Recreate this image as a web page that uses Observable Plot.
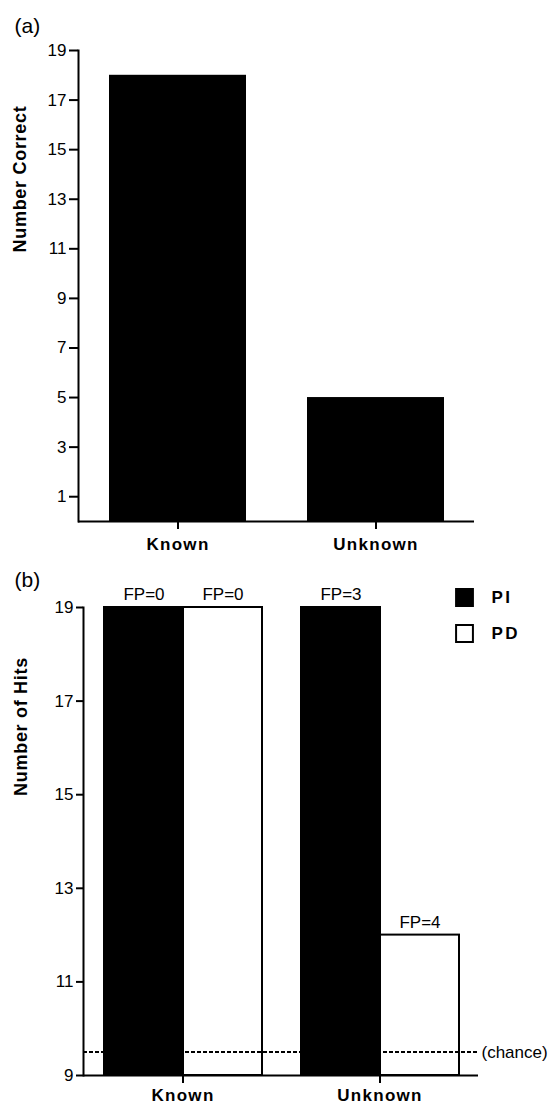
<!DOCTYPE html>
<html>
<head>
<meta charset="utf-8">
<script src="https://cdn.jsdelivr.net/npm/d3@7"></script>
<script src="https://cdn.jsdelivr.net/npm/@observablehq/plot@0.6"></script>
<style>
  html, body { margin: 0; padding: 0; background: #fff; }
  #wrap { position: relative; width: 550px; height: 1106px; background: #fff; }
  #wrap svg { position: absolute; left: 0; }
  g[aria-label="x-axis tick label"] text,
  g[aria-label="fx-axis tick label"] text { font-weight: bold; letter-spacing: 1.3px; }
  text[aria-label="legend-label"] { letter-spacing: 2.5px; }
  text[aria-label="axis-title"] { letter-spacing: 0.7px; }
</style>
</head>
<body>
<div id="wrap"></div>
<script>
// ---- Panel (a) data ----
const catsA = ["Known", "Unknown"];
const correctA = [18, 5];
const ticksA = [1, 3, 5, 7, 9, 11, 13, 15, 17, 19];

// ---- Panel (b) data ----
const catsB = ["Known", "Known", "Unknown", "Unknown"];
const groupsB = ["PI", "PD", "PI", "PD"];
const hitsB = [19, 19, 19, 12];
const fpB = [0, 0, 3, 4];
const ticksB = [9, 11, 13, 15, 17, 19];
const yMinB = 9;
const chance = 9.5;
const legendKeys = ["PI", "PD"];
const legendFills = ["black", "white"];

const font = "'Liberation Sans', Arial, Helvetica, sans-serif";

const dataA = catsA.map((c, i) => ({cat: c, value: correctA[i]}));
const dataB = catsB.map((c, i) => ({cat: c, group: groupsB[i], hits: hitsB[i], fp: fpB[i]}));

const plotA = Plot.plot({
  width: 550,
  height: 555,
  marginTop: 50,
  marginBottom: 34,
  marginLeft: 78,
  marginRight: 76,
  style: {fontSize: "17px", fontFamily: font, color: "black", background: "white"},
  x: {domain: catsA, paddingInner: 0.31, paddingOuter: 0.155, label: null},
  y: {domain: [0, 19], label: null},
  marks: [
    Plot.barY(dataA, {x: "cat", y: "value", fill: "black"}),
    Plot.frame({anchor: "left", strokeWidth: 2}),
    Plot.ruleY([0], {strokeWidth: 2}),
    Plot.axisY({ticks: ticksA, tickSize: 9, tickPadding: 3, strokeWidth: 2, label: null}),
    Plot.axisX({tickSize: 8, tickPadding: 8, strokeWidth: 2, label: null}),
    Plot.text(["Number Correct"], {frameAnchor: "left", textAnchor: "middle", lineAnchor: "middle", rotate: -90, dx: -58, dy: -107, fontWeight: "bold", fontSize: 18, ariaLabel: () => "axis-title"}),
    Plot.text(["(a)"], {frameAnchor: "top-left", textAnchor: "start", lineAnchor: "middle", dx: -64, dy: -24, fontSize: 21})
  ]
});
plotA.style.top = "0px";

const dimsB = {width: 550, height: 551, marginTop: 52, marginBottom: 31, marginLeft: 83, marginRight: 72};

// bars (faceted by category)
const plotB = Plot.plot({
  ...dimsB,
  style: {fontSize: "17px", fontFamily: font, color: "black", background: "white"},
  fx: {domain: ["Known", "Unknown"], paddingInner: 0.195, paddingOuter: 0.096, label: null},
  x: {domain: legendKeys, padding: 0, axis: null, label: null},
  y: {domain: [yMinB, 19], axis: null, label: null},
  color: {domain: legendKeys, range: legendFills},
  marks: [
    Plot.barY(dataB, {fx: "cat", x: "group", y1: () => yMinB, y2: "hits", fill: "group", stroke: "black", strokeWidth: 2}),
    Plot.text(dataB, {fx: "cat", x: "group", y: "hits", text: d => "FP=" + d.fp, dy: -13}),
    Plot.axisFx({anchor: "bottom", tickSize: 8, tickPadding: 5, strokeWidth: 2, label: null})
  ]
});
plotB.style.top = "555px";

// overlay: axes, chance line, legend (full frame width)
const plotB2 = Plot.plot({
  ...dimsB,
  style: {fontSize: "17px", fontFamily: font, color: "black", background: "transparent"},
  y: {domain: [yMinB, 19], label: null},
  marks: [
    Plot.ruleY([chance], {strokeWidth: 2, strokeDasharray: "4,2"}),
    Plot.text([chance], {y: d => d, text: () => "(chance)", frameAnchor: "right", textAnchor: "start", dx: 3}),
    Plot.frame({anchor: "left", strokeWidth: 2}),
    Plot.ruleY([yMinB], {strokeWidth: 2}),
    Plot.axisY({ticks: ticksB, tickSize: 7, tickPadding: 3, strokeWidth: 2, label: null}),
    Plot.text(["Number of Hits"], {frameAnchor: "left", textAnchor: "middle", lineAnchor: "middle", rotate: -90, dx: -62.5, dy: -115, fontWeight: "bold", fontSize: 18, ariaLabel: () => "axis-title"}),
    Plot.text(["(b)"], {frameAnchor: "top-left", textAnchor: "start", lineAnchor: "middle", dx: -69, dy: -27, fontSize: 21}),
    ...legendKeys.map((k, i) => Plot.dot([k], {frameAnchor: "top-right", symbol: "square", r: 9.5, fill: legendFills[i], stroke: "black", strokeWidth: 2, dx: -14, dy: -10 + i * 36})),
    ...legendKeys.map((k, i) => Plot.text([k], {frameAnchor: "top-right", textAnchor: "start", lineAnchor: "middle", dx: 13, dy: -10 + i * 36, fontWeight: "bold", fontSize: 17, ariaLabel: () => "legend-label"}))
  ]
});
plotB2.style.top = "555px";

const wrap = document.getElementById("wrap");
wrap.appendChild(plotA);
wrap.appendChild(plotB);
wrap.appendChild(plotB2);
</script>
</body>
</html>
